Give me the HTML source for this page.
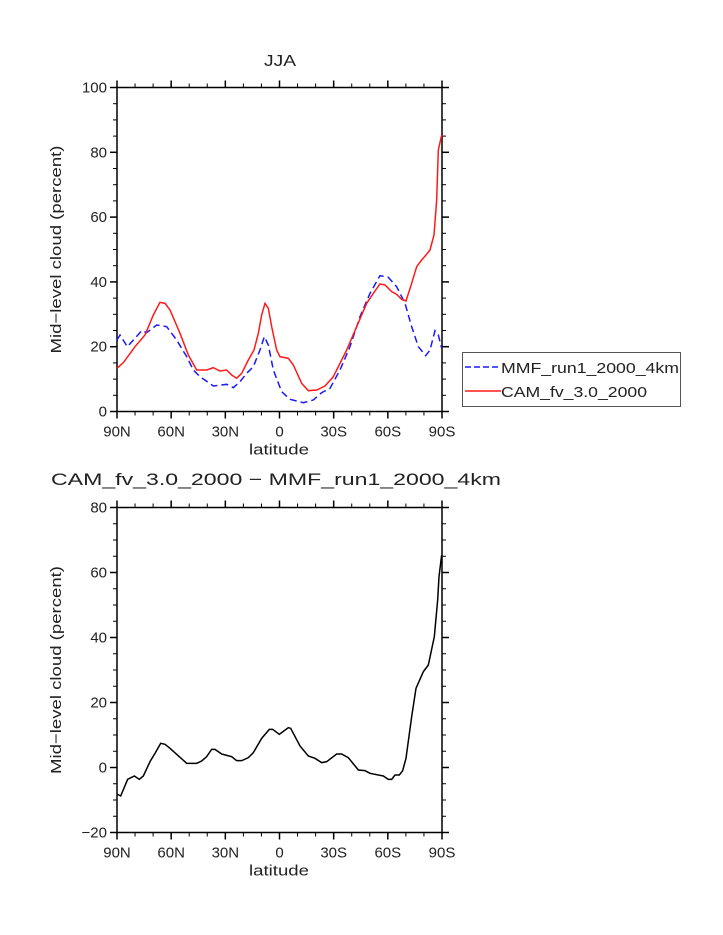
<!DOCTYPE html>
<html><head><meta charset="utf-8"><style>
html,body{margin:0;padding:0;background:#fff;}
svg{display:block;font-family:"Liberation Sans",sans-serif;}
</style></head><body>
<svg id="s" width="723" height="935" xmlns="http://www.w3.org/2000/svg">
<rect width="723" height="935" fill="#fff"/>
<text x="280" y="66" font-size="16" text-anchor="middle" fill="#222" textLength="32" lengthAdjust="spacingAndGlyphs">JJA</text>
<text x="276" y="485" font-size="17" text-anchor="middle" fill="#222" textLength="450" lengthAdjust="spacingAndGlyphs">CAM_fv_3.0_2000 − MMF_run1_2000_4km</text>
<g id="ax"></g>
<g transform="translate(100,260) scale(0.33333)">
<polyline fill="none" stroke="#1a1aff" stroke-width="1.5" vector-effect="non-scaling-stroke" stroke-dasharray="7,4" points="51,240 60,225 82,260 105,235 125,212 140,218 170,195 200,200 230,240 260,290 280,330 300,350 340,378 380,373 400,383 420,365 440,340 460,320 480,270 493,230 505,255 520,330 545,395 570,418 610,428 640,420 665,398 690,385 720,330 750,260 780,170 810,100 840,47 865,52 890,80 915,130 935,200 955,260 977,287 990,270 1005,212 1015,225 1025,265"/>
<polyline fill="none" stroke="#ff1a1a" stroke-width="1.5" vector-effect="non-scaling-stroke" points="51,325 70,308 105,260 135,225 160,165 180,127 195,130 210,150 240,220 265,285 290,330 320,330 340,323 360,333 380,330 395,345 410,355 425,340 445,300 462,270 475,220 485,165 495,130 505,145 515,200 530,270 540,290 565,295 580,315 605,370 625,392 650,390 675,378 700,350 740,270 770,200 800,130 820,100 840,72 855,75 875,95 890,103 905,118 918,123 935,70 950,20 965,0 978,-15 990,-30 1002,-75 1010,-180 1015,-330 1025,-375"/>
</g>
<g transform="translate(100,500) scale(0.33333)">
<polyline fill="none" stroke="#000" stroke-width="1.5" vector-effect="non-scaling-stroke" points="51,882 62,888 83,838 103,828 118,838 130,828 150,785 165,760 182,730 195,733 210,745 260,790 290,790 305,783 320,770 335,748 345,748 365,762 395,770 410,782 425,782 445,773 460,758 485,715 508,688 518,688 538,703 565,683 572,685 600,738 625,768 645,775 665,788 680,785 710,762 725,762 745,773 775,810 795,812 810,820 850,828 865,838 875,838 885,825 898,825 908,812 918,775 935,650 948,565 970,515 985,495 1003,410 1013,300 1017,230 1025,165"/>
</g>
<rect x="462.5" y="352.5" width="218" height="54" fill="none" stroke="#555" stroke-width="1"/>
<line x1="465" y1="367" x2="501" y2="367" stroke="#1a1aff" stroke-width="1.5" stroke-dasharray="6,3"/>
<line x1="465" y1="391" x2="501" y2="391" stroke="#ff1a1a" stroke-width="1.5"/>
<text x="501" y="373" font-size="15" fill="#222" textLength="178" lengthAdjust="spacingAndGlyphs">MMF_run1_2000_4km</text>
<text x="501" y="397" font-size="15" fill="#222" textLength="146" lengthAdjust="spacingAndGlyphs">CAM_fv_3.0_2000</text>
</svg>
<script>
var ax=document.getElementById('ax'),h='';
var L=117,R=442;
function plot(top,bot,vmin,vmax,ylab){
  h+='<rect x="'+L+'" y="'+top+'" width="'+(R-L)+'" height="'+(bot-top)+'" fill="none" stroke="#000" stroke-width="1.5"/>';
  var sc=(bot-top)/(vmax-vmin);
  for(var v=vmin;v<=vmax;v+=5){var y=bot-(v-vmin)*sc;var maj=(v%20==0);var t=maj?7:4;
    h+='<line x1="'+(L-t)+'" y1="'+y+'" x2="'+L+'" y2="'+y+'" stroke="#000" stroke-width="'+(maj?1.5:1)+'"/>';
    h+='<line x1="'+R+'" y1="'+y+'" x2="'+(R+t)+'" y2="'+y+'" stroke="#000" stroke-width="'+(maj?1.5:1)+'"/>';
    if(maj)h+='<text x="'+(L-10)+'" y="'+(y+5)+'" font-size="15" text-anchor="end" fill="#222">'+(v<0?'−'+(-v):v)+'</text>';}
  var labs=['90N','60N','30N','0','30S','60S','90S'];
  for(var i=0;i<=18;i++){var x=L+(R-L)*i/18;var maj=(i%3==0);var t=maj?7:4;
    h+='<line x1="'+x+'" y1="'+bot+'" x2="'+x+'" y2="'+(bot+t)+'" stroke="#000" stroke-width="'+(maj?1.5:1)+'"/>';
    h+='<line x1="'+x+'" y1="'+(top-t)+'" x2="'+x+'" y2="'+top+'" stroke="#000" stroke-width="'+(maj?1.5:1)+'"/>';
    if(maj)h+='<text x="'+x+'" y="'+(bot+25)+'" font-size="15" text-anchor="middle" fill="#222">'+labs[i/3]+'</text>';}
  h+='<text x="279" y="'+(bot+43)+'" font-size="15" text-anchor="middle" fill="#222" textLength="60" lengthAdjust="spacingAndGlyphs">latitude</text>';
  var cy=(top+bot)/2;
  h+='<text x="0" y="0" transform="translate(61,'+cy+') rotate(-90)" font-size="15" text-anchor="middle" fill="#222" textLength="208" lengthAdjust="spacingAndGlyphs">'+ylab+'</text>';
}
plot(87.5,411.5,0,100,'Mid−level cloud (percent)');
plot(507.5,832.5,-20,80,'Mid−level cloud (percent)');
ax.innerHTML=h;
</script>
</body></html>
